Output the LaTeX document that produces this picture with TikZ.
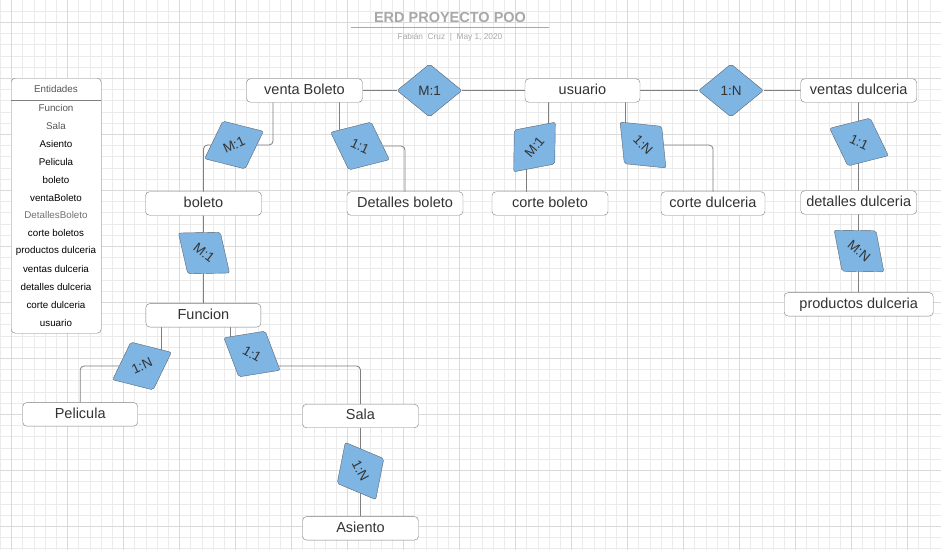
\documentclass[tikz,border=0pt]{standalone}
\usepackage{fontspec}
\setmainfont{Liberation Sans}
\usepackage{tikz}
\usetikzlibrary{shapes.geometric}
\pgfdeclarelayer{background}
\pgfsetlayers{background,main}

\definecolor{gridminor}{HTML}{EBEBEB}
\definecolor{gridmajor}{HTML}{DADADA}
\definecolor{relblue}{HTML}{7FB5E3}
\definecolor{reledge}{HTML}{5A6570}
\definecolor{edgegray}{HTML}{7F7F7F}
\definecolor{textgray}{HTML}{333333}
\definecolor{titlegray}{HTML}{A8A8A8}
\definecolor{legendgray}{HTML}{555555}
\definecolor{legendlight}{HTML}{707070}

\tikzset{
  entity/.style={draw=edgegray, fill=white, rounded corners=4pt,
    minimum width=116pt, minimum height=23.5pt, inner sep=0pt,
    text=textgray, font=\fontsize{14.5}{17}\selectfont,
    text height=10.5pt, text depth=3pt},
  relation/.style={diamond, draw=reledge, fill=relblue, aspect=1.23,
    minimum width=65pt, minimum height=53pt, inner sep=0pt,
    rounded corners=2pt, text=textgray, font=\fontsize{13.5}{16}\selectfont},
  link/.style={draw=edgegray, line width=0.8pt, rounded corners=4pt},
  legenditem/.style={inner sep=0pt, font=\fontsize{9.8}{12}\selectfont},
}

\begin{document}
\begin{tikzpicture}[x=1pt, y=-1pt]
    \useasboundingbox (0,0) rectangle (941,550);

    % Grid
    \begin{pgfonlayer}{background}
    \fill[white] (0,0) rectangle (941,550);
    \foreach \i in {0,...,84}
        \draw[gridminor, line width=0.8pt] (0.3+11.2*\i,0) -- (0.3+11.2*\i,550);
    \foreach \i in {1,...,49}
        \draw[gridminor, line width=0.8pt] (0,-0.1+11.2*\i) -- (941,-0.1+11.2*\i);
    \foreach \i in {0,...,16}
        \draw[gridmajor, line width=0.9pt] (11.5+56*\i,0) -- (11.5+56*\i,550);
    \foreach \i in {0,...,9}
        \draw[gridmajor, line width=0.9pt] (0,22.3+56*\i) -- (941,22.3+56*\i);
    \end{pgfonlayer}

    % Title
    \node[text=titlegray, font=\fontsize{14.5}{17}\selectfont\bfseries] (title) at (450,18) {ERD PROYECTO POO};
    \draw[titlegray, line width=1.6pt] (351,27.5) -- (549,27.5);
    \node[text=titlegray, font=\fontsize{8.3}{10}\selectfont] (subtitle) at (450,37) {Fabián~ Cruz ~|~ May 1, 2020};

    % Legend
    \node[draw=edgegray, fill=white, rounded corners=4pt, anchor=north west,
          minimum width=90pt, minimum height=255pt] (legend) at (11,78) {};
    \draw[edgegray, line width=0.8pt] (legend.west |- 0,100) -- (legend.east |- 0,100);
    \node[legenditem, text=legendgray] (legendhead) at (56,88.5) {Entidades};
    \foreach \name/\col [count=\i from 0] in {Funcion/legendgray, Sala/legendgray, Asiento/black,
        Pelicula/black, boleto/black, ventaBoleto/black, DetallesBoleto/legendlight,
        corte boletos/black, productos dulceria/black, ventas dulceria/black,
        detalles dulceria/black, corte dulceria/black, usuario/black}
        \node[legenditem, text=\col] (item\i) at (56,108+17.9*\i) {\name};

    % Entities
    \node[entity] (vb) at (304.5,90.5) {venta Boleto};
    \node[entity, minimum width=115pt] (usr) at (582.5,90.5) {usuario};
    \node[entity] (vd) at (858.7,90.5) {ventas dulceria};
    \node[entity] (bol) at (203.5,203.5) {boleto};
    \node[entity] (dbol) at (405,203.5) {Detalles boleto};
    \node[entity] (cb) at (550,203.5) {corte boleto};
    \node[entity, minimum width=104pt] (cd) at (713,203.5) {corte dulceria};
    \node[entity] (dd) at (858.7,202.5) {detalles dulceria};
    \node[entity, minimum width=149pt] (pd) at (858.7,304.3) {productos dulceria};
    \node[entity, minimum width=115pt] (fun) at (203.4,315.3) {Funcion};
    \node[entity, minimum width=115pt] (pel) at (80.2,414.3) {Pelicula};
    \node[entity] (sala) at (360.5,416) {Sala};
    \node[entity] (asi) at (360.5,528.3) {Asiento};

    % Relations
    \node[relation] (rel_vu) at (429.5,90.5) {M:1};
    \node[relation] (rel_uv) at (731,90.5) {1:N};
    \node[relation, rotate=25] (rel_vb) at (234,145) {M:1};
    \node[relation, rotate=-25] (rel_vd) at (360,146) {1:1};
    \node[relation, rotate=50] (rel_uc) at (534.5,147) {M:1};
    \node[relation, rotate=-45] (rel_ud) at (643,145) {1:N};
    \node[relation, rotate=-25] (rel_vdd) at (859,142) {1:1};
    \node[relation, rotate=-40] (rel_dp) at (859,251) {M:N};
    \node[relation, rotate=-38] (rel_bf) at (204,253) {M:1};
    \node[relation, rotate=25] (rel_fp) at (142,366) {1:N};
    \node[relation, rotate=-30] (rel_fs) at (252,354) {1:1};
    \node[relation, rotate=-62] (rel_sa) at (360.5,471) {1:N};

    % Connector ends
    \coordinate (vb_l) at ([xshift=-31.5pt]vb.south);
    \coordinate (vb_r) at ([xshift=34.5pt]vb.south);
    \coordinate (usr_l) at ([xshift=-34pt]usr.south);
    \coordinate (usr_r) at ([xshift=42.5pt]usr.south);
    \coordinate (cb_in) at ([xshift=-24pt]cb.north);
    \coordinate (fun_l) at ([xshift=-41.7pt]fun.south);
    \coordinate (fun_r) at ([xshift=26.6pt]fun.south);
    \coordinate (sala_in) at ([yshift=-12pt]rel_fs.center);

    % Connectors
    \begin{pgfonlayer}{background}
    \draw[link] (vb) -- (rel_vu) -- (usr);
    \draw[link] (usr) -- (rel_uv) -- (vd);
    \draw[link] (vb_l) |- (rel_vb);
    \draw[link] (rel_vb) -| (bol);
    \draw[link] (vb_r) -- (vb_r |- rel_vd);
    \draw[link] (rel_vd) -| (dbol);
    \draw[link] (usr_l) -- (usr_l |- rel_uc);
    \draw[link] (cb_in |- rel_uc) -- (cb_in);
    \draw[link] (usr_r) -- (usr_r |- rel_ud);
    \draw[link] (rel_ud) -| (cd);
    \draw[link] (vd) -- (dd);
    \draw[link] (dd) -- (pd);
    \draw[link] (bol) -- (fun);
    \draw[link] (fun_l) -- (fun_l |- rel_fp);
    \draw[link] (rel_fp) -| (pel);
    \draw[link] (fun_r) -- (fun_r |- rel_fs);
    \draw[link] (sala_in) -| (sala);
    \draw[link] (sala) -- (asi);
    \end{pgfonlayer}
\end{tikzpicture}
\end{document}
